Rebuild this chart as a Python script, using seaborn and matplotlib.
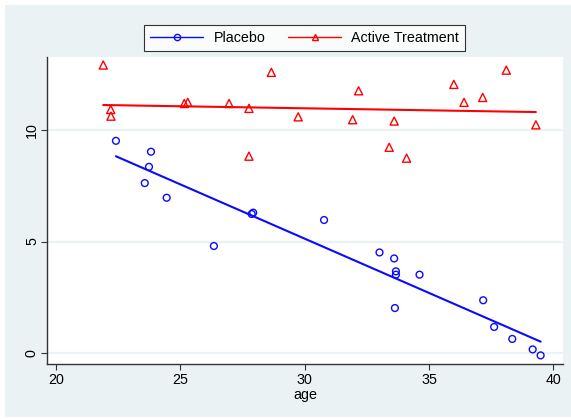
import numpy as np
import pandas as pd
import matplotlib
matplotlib.use("Agg")
import matplotlib.pyplot as plt
import seaborn as sns
from matplotlib.lines import Line2D
from matplotlib.patches import Rectangle

# =======================
# Data
# =======================
placebo_age = [22.41, 23.82, 23.74, 23.57, 24.45, 27.93, 27.87, 26.35, 30.78, 33.01,
               33.60, 33.67, 33.67, 34.62, 33.63, 37.18, 37.62, 38.35, 39.17, 39.49]
placebo_y = [9.53, 9.04, 8.36, 7.63, 6.97, 6.30, 6.24, 4.80, 5.97, 4.51,
             4.24, 3.66, 3.51, 3.51, 2.01, 2.36, 1.16, 0.62, 0.15, -0.12]

active_age = [21.90, 22.20, 22.21, 25.16, 25.30, 26.96, 27.76, 28.66, 29.74, 27.76,
              32.17, 31.93, 33.60, 33.40, 34.10, 36.00, 36.41, 37.16, 38.11, 39.30]
active_y = [12.94, 10.94, 10.64, 11.21, 11.26, 11.21, 10.99, 12.61, 10.61, 8.84,
            11.78, 10.48, 10.42, 9.24, 8.75, 12.07, 11.26, 11.48, 12.71, 10.25]

xticks = [20, 25, 30, 35, 40]
yticks = [0, 5, 10]

placebo = pd.DataFrame({"age": placebo_age, "y": placebo_y})
active = pd.DataFrame({"age": active_age, "y": active_y})

BLUE = "#0a0aff"
RED = "#ff0000"
BG = "#eaf2f3"

sns.set_style("white")
plt.rcParams["font.family"] = ["Liberation Sans", "DejaVu Sans"]
plt.rcParams["text.color"] = "black"
plt.rcParams["xtick.color"] = "black"
plt.rcParams["ytick.color"] = "black"
plt.rcParams["axes.labelcolor"] = "black"

fig = plt.figure(figsize=(5.71, 4.19), dpi=100)
# light graph region with thin white border
fig.patches.append(Rectangle((5 / 571, 2 / 419), 566 / 571, 412 / 419,
                             transform=fig.transFigure, facecolor=BG,
                             edgecolor="none", zorder=-10))
ax = fig.add_axes([47.3 / 571, 1 - 364.3 / 419, (563 - 47.3) / 571, (364.3 - 57) / 419])
ax.set_facecolor("white")

# gridlines
for t in yticks:
    ax.axhline(t, color=BG, lw=1.6, zorder=0)

# regression lines
sns.regplot(data=placebo, x="age", y="y", scatter=False, ci=None, ax=ax,
            line_kws={"color": BLUE, "lw": 1.5, "zorder": 2})
sns.regplot(data=active, x="age", y="y", scatter=False, ci=None, ax=ax,
            line_kws={"color": RED, "lw": 1.5, "zorder": 2})

# points
sns.scatterplot(data=placebo, x="age", y="y", marker="o", s=24, facecolors="none",
                edgecolor=BLUE, linewidth=1.0, ax=ax, zorder=3)
sns.scatterplot(data=active, x="age", y="y", marker="^", s=34, facecolors="none",
                edgecolor=RED, linewidth=1.0, ax=ax, zorder=3)

ax.set_xlim(19.65, 40.39)
ax.set_ylim(-0.52, 13.30)
ax.set_xticks(xticks)
ax.set_yticks(yticks)
ax.set_xticklabels([str(t) for t in xticks], fontsize=10.3)
ax.set_yticklabels([str(t) for t in yticks], fontsize=10.3, rotation=90, va="center")
ax.set_xlabel("age", fontsize=10.3, labelpad=1)
ax.set_ylabel("")
ax.tick_params(axis="both", direction="out", length=4, width=0.8, color="#333333",
               left=True, bottom=True, pad=2)

for side in ["top", "right"]:
    ax.spines[side].set_visible(False)
for side in ["left", "bottom"]:
    ax.spines[side].set_color("#333333")
    ax.spines[side].set_linewidth(1.0)

handles = [
    Line2D([], [], color=BLUE, lw=1, marker="o", markersize=4.5,
           markerfacecolor="none", markeredgecolor=BLUE),
    Line2D([], [], color=RED, lw=1, marker="^", markersize=5,
           markerfacecolor="none", markeredgecolor=RED),
]
leg = fig.legend(handles, ["Placebo", "Active Treatment"], ncol=2,
                 loc="center", bbox_to_anchor=(304.7 / 571, 1 - 38 / 419),
                 fontsize=10.3, frameon=True, fancybox=False, edgecolor="black",
                 handlelength=3.7, handletextpad=0.7, columnspacing=1.6,
                 borderpad=0.45)
leg.get_frame().set_linewidth(0.8)
leg.get_frame().set_facecolor("white")

fig.savefig("out.png", dpi=100, facecolor="white")
